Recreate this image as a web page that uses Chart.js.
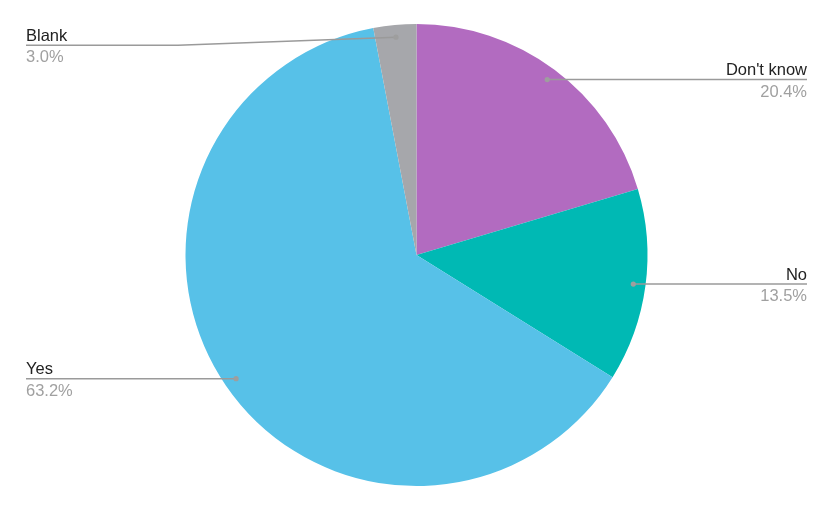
<!DOCTYPE html>
<html>
<head>
<meta charset="utf-8">
<script src="https://cdn.jsdelivr.net/npm/chart.js@4/dist/chart.umd.min.js"></script>
<style>
  html, body { margin: 0; padding: 0; background: #fff; }
  #wrap { width: 833px; height: 511px; }
</style>
</head>
<body>
<div id="wrap"><canvas id="chart" width="833" height="511"></canvas></div>
<script>
// answers, clockwise from 12 o'clock
const answers = ["Don't know", "No", "Yes", "Blank"];
const shares = [20.4, 13.5, 63.2, 3.0];
const sliceColors = ["#B26BC0", "#00B9B4", "#57C1E8", "#A6A7AB"];

// draws the leader lines with the name and the percentage
const leaderLabels = {
    id: 'leaderLabels',
    afterDatasetsDraw(chart, args, opts) {
        const ctx = chart.ctx;
        const arcs = chart.getDatasetMeta(0).data;
        ctx.save();
        arcs.forEach((arc, i) => {
            const mid = (arc.startAngle + arc.endAngle) / 2;
            const r = arc.outerRadius * 0.947;
            const dx = arc.x + Math.cos(mid) * r;
            const dy = arc.y + Math.sin(mid) * r;
            const right = Math.cos(mid) > 0;
            const shift = opts.shifts[i] || 0;
            const lineY = dy + shift;
            const endX = right ? chart.width - 26 : 26;

            ctx.strokeStyle = '#9a9a9a';
            ctx.lineWidth = 1.5;
            ctx.beginPath();
            ctx.moveTo(dx, dy);
            if (shift) {
                ctx.lineTo(opts.elbowX, lineY);
            }
            ctx.lineTo(endX, lineY);
            ctx.stroke();

            ctx.fillStyle = '#9e9e9e';
            ctx.beginPath();
            ctx.arc(dx, dy, 2.6, 0, Math.PI * 2);
            ctx.fill();

            ctx.textAlign = right ? 'right' : 'left';
            ctx.textBaseline = 'alphabetic';
            ctx.font = '16.5px "Liberation Sans", Arial, sans-serif';
            ctx.fillStyle = '#222';
            ctx.fillText(answers[i], endX, lineY - 4.5);
            ctx.fillStyle = '#a0a0a0';
            ctx.fillText(shares[i].toFixed(1) + '%', endX, lineY + 17);
        });
        ctx.restore();
    }
};

new Chart(document.getElementById('chart'), {
    type: 'pie',
    data: {
        labels: answers,
        datasets: [{
            data: shares,
            backgroundColor: sliceColors,
            borderWidth: 0
        }]
    },
    options: {
        responsive: false,
        animation: false,
        events: [],
        layout: { padding: { top: 24, bottom: 25, left: 0, right: 0 } },
        plugins: {
            legend: { display: false },
            tooltip: { enabled: false },
            leaderLabels: { shifts: [0, 0, 0, 8], elbowX: 178 }
        }
    },
    plugins: [leaderLabels]
});
</script>
</body>
</html>
